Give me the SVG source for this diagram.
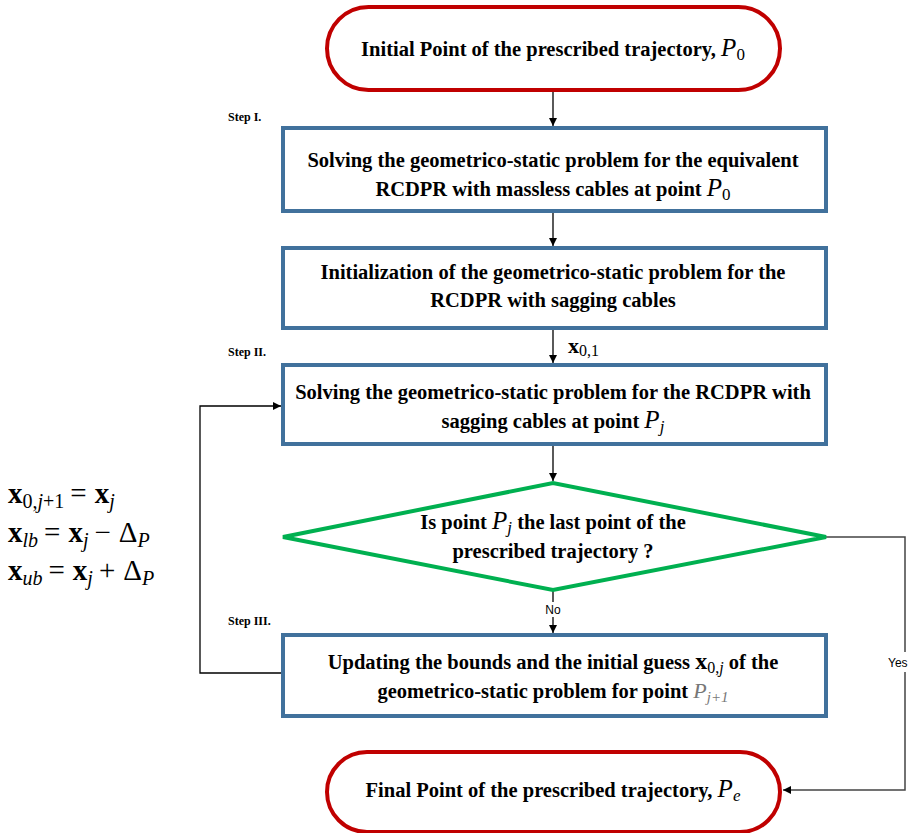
<svg xmlns="http://www.w3.org/2000/svg" width="909" height="833" viewBox="0 0 909 833">
<style>
.term{fill:#fff;stroke:#c00000;stroke-width:4}
.box{fill:#fff;stroke:#41719c;stroke-width:4}
.dia{fill:#fff;stroke:#00b050;stroke-width:4}
.t{font-family:"Liberation Serif",serif;font-weight:bold;font-size:20.5px;fill:#000;text-anchor:middle}
.m{font-family:"Liberation Serif",serif;font-style:italic;font-weight:normal}
.mb{font-family:"Liberation Serif",serif;font-weight:bold;font-style:normal}
.mr{font-family:"Liberation Serif",serif;font-weight:normal;font-style:normal}
.step{font-family:"Liberation Serif",serif;font-weight:bold;font-size:12px;fill:#000}
.lbl{font-family:"Liberation Sans",sans-serif;font-size:12px;fill:#000}
.c{fill:none;stroke:#000;stroke-width:1.3}
.c2{fill:none;stroke:#444;stroke-width:1.5}
.eq{font-family:"Liberation Serif",serif;font-size:29px;fill:#000}
</style>
<defs>
<marker id="a" viewBox="0 0 10 10" refX="10" refY="5" markerWidth="8" markerHeight="8" orient="auto" markerUnits="userSpaceOnUse">
<path d="M0,0 L10,5 L0,10 z" fill="#000"/>
</marker>
</defs>
<g id="connectors">
<line class="c" x1="553" y1="90" x2="553" y2="126" marker-end="url(#a)"/>
<line class="c" x1="553" y1="211" x2="553" y2="246" marker-end="url(#a)"/>
<line class="c" x1="553" y1="328" x2="553" y2="363" marker-end="url(#a)"/>
<line class="c" x1="553" y1="444" x2="553" y2="481" marker-end="url(#a)"/>
<line class="c" x1="553" y1="590" x2="553" y2="602"/>
<line class="c" x1="553" y1="617" x2="553" y2="633" marker-end="url(#a)"/>
<polyline class="c" points="283,673 200,673 200,406 281,406" marker-end="url(#a)"/>
<polyline class="c2" points="826,537 905,537 905,652"/>
<polyline class="c2" points="905,672 905,790 783,790" marker-end="url(#a)"/>
<text class="lbl" x="553" y="614" text-anchor="middle">No</text>
<text class="lbl" x="888" y="667">Yes</text>
<text x="568" y="353" font-size="22"><tspan class="mb">x</tspan><tspan class="mr" font-size="16" dy="3">0,1</tspan></text>
</g>
<g id="start">
<rect class="term" x="327" y="7" width="453" height="83" rx="41.5"/>
<text class="t" x="553" y="56">Initial Point of the prescribed trajectory, <tspan class="m" font-size="25">P</tspan><tspan class="mr" font-size="17" dy="4">0</tspan></text>
</g>
<text class="step" x="228" y="121">Step I.</text>
<g id="box1">
<rect class="box" x="283" y="128" width="543" height="83"/>
<text class="t" x="553" y="167">Solving the geometrico-static problem for the equivalent</text>
<text class="t" x="553" y="196">RCDPR with massless cables at point  <tspan class="m" font-size="25">P</tspan><tspan class="mr" font-size="17" dy="4">0</tspan></text>
</g>
<g id="box2">
<rect class="box" x="283" y="248" width="543" height="80"/>
<text class="t" x="553" y="279">Initialization of the geometrico-static problem for the</text>
<text class="t" x="553" y="307">RCDPR with sagging cables</text>
</g>
<text class="step" x="228" y="356">Step II.</text>
<g id="box3">
<rect class="box" x="283" y="365" width="543" height="79"/>
<text class="t" x="553" y="399">Solving the geometrico-static problem for the RCDPR with</text>
<text class="t" x="553" y="428">sagging cables at point <tspan class="m" font-size="25">P</tspan><tspan class="m" font-size="17" dy="4">j</tspan></text>
</g>
<g id="decision">
<polygon class="dia" points="283,537 553,483 826,537 553,590"/>
<text class="t" x="553" y="529">Is point  <tspan class="m" font-size="25">P</tspan><tspan class="m" font-size="17" dy="4">j</tspan><tspan dy="-4"> the last point of the</tspan></text>
<text class="t" x="553" y="558">prescribed trajectory ?</text>
</g>
<text class="step" x="228" y="625">Step III.</text>
<g id="box4">
<rect class="box" x="283" y="635" width="543" height="81"/>
<text class="t" x="553" y="669">Updating the bounds and the initial guess <tspan class="mb" font-size="24">x</tspan><tspan class="mr" font-size="16" dy="4">0,</tspan><tspan class="m" font-size="16">j</tspan><tspan dy="-4"> of the</tspan></text>
<text class="t" x="553" y="698">geometrico-static problem for point <tspan class="m" font-size="22" fill="#777">P</tspan><tspan class="m" font-size="15" dy="4" fill="#777">j+1</tspan></text>
</g>
<g id="end">
<rect class="term" x="327" y="752" width="453" height="80" rx="40"/>
<text class="t" x="553" y="797">Final Point of the prescribed trajectory, <tspan class="m" font-size="25">P</tspan><tspan class="m" font-size="17" dy="4">e</tspan></text>
</g>
<g id="equations">
<text class="eq" x="8" y="503"><tspan class="mb">x</tspan><tspan class="mr" font-size="20" dy="5">0,</tspan><tspan class="m" font-size="20">j</tspan><tspan class="mr" font-size="20">+1</tspan><tspan class="mr" dy="-5" dx="6">=</tspan><tspan class="mb" dx="8">x</tspan><tspan class="m" font-size="20" dy="5">j</tspan></text>
<text class="eq" x="8" y="542"><tspan class="mb">x</tspan><tspan class="m" font-size="20" dy="5">lb</tspan><tspan class="mr" dy="-5" dx="6">=</tspan><tspan class="mb" dx="8">x</tspan><tspan class="m" font-size="20" dy="5">j</tspan><tspan class="mr" dy="-5" dx="6">−</tspan><tspan class="mr" dx="8">Δ</tspan><tspan class="m" font-size="20" dy="5">P</tspan></text>
<text class="eq" x="8" y="580"><tspan class="mb">x</tspan><tspan class="m" font-size="20" dy="5">ub</tspan><tspan class="mr" dy="-5" dx="6">=</tspan><tspan class="mb" dx="8">x</tspan><tspan class="m" font-size="20" dy="5">j</tspan><tspan class="mr" dy="-5" dx="6">+</tspan><tspan class="mr" dx="8">Δ</tspan><tspan class="m" font-size="20" dy="5">P</tspan></text>
</g>
</svg>
